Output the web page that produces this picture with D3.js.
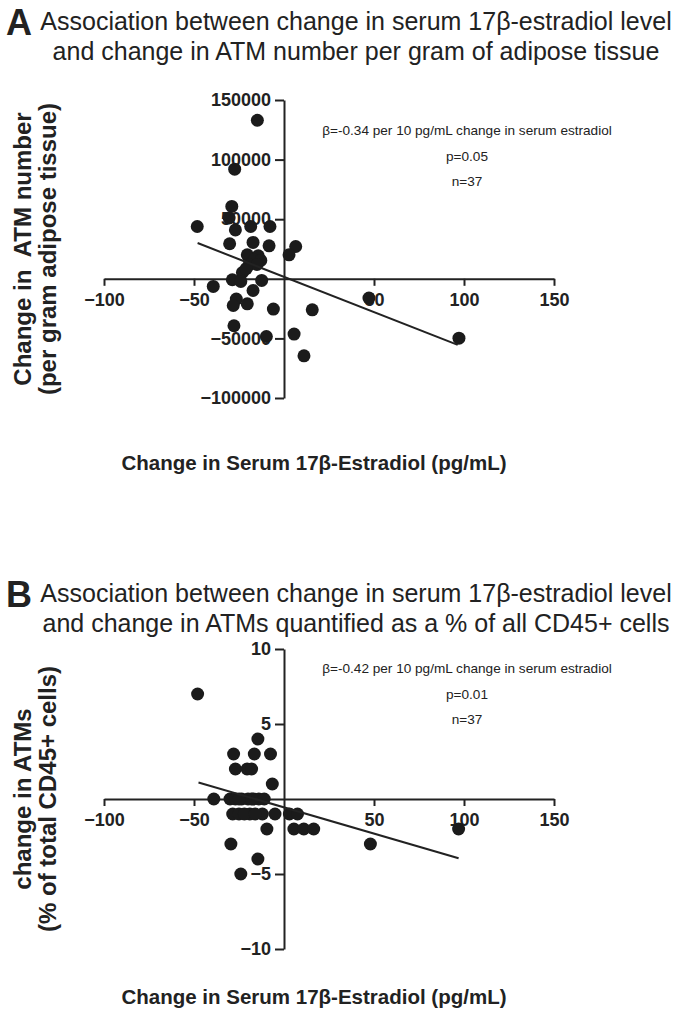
<!DOCTYPE html>
<html>
<head>
<meta charset="utf-8">
<script src="https://cdn.jsdelivr.net/npm/d3@7"></script>
<style>
  html, body { margin: 0; padding: 0; background: #fff; }
  svg text { font-family: "Liberation Sans", Arial, sans-serif; fill: #222; }
</style>
</head>
<body>
<svg id="chart" width="679" height="1018"></svg>
<script>
// ---------- Data ----------
// Panel A: change in serum 17β-estradiol (pg/mL) vs change in ATM number per gram adipose tissue
const xA = [-14.8, -27.4, -29, -48.2, -30.5, -27, -18.5, -7.8, -30.2, -17.2, -8.3, 6.5, 2.8,
            -20.4, -14.3, -16.7, -12.9, -19.4, -23.1, -28.7, -24, -12.4, -39.3, -17.2, -26.5,
            -28.2, -20.4, -5.9, 15.7, -27.8, -9.8, 5.6, 11.1, 47.2, 97.2, -15, -21];
const yA = [133000, 92000, 60700, 43900, 51000, 41000, 43900, 43900, 29400, 30500, 27700, 27100, 20100,
            20100, 19300, 16000, 15400, 11700, 5300, -800, -2200, -1400, -6400, -9800, -17000,
            -22400, -21000, -25400, -26000, -39400, -48400, -46400, -64600, -16200, -49800, 12000, 8500];
const fitAx = [-48, 96.5];
const fitAy = [30000, -55400];

// Panel B: change in serum 17β-estradiol (pg/mL) vs change in ATMs (% of total CD45+ cells)
const xB = [-48, -14.5, -28, -16.5, -7.5, -27, -20.5, -18, -6.5,
            -39, -30, -27, -23.5, -20, -17, -14, -11,
            -28.5, -25, -19, -12, -5, 3, 7.5,
            -9.5, 5.5, 11, 16.5,
            -29.5, -14.5, -24, 48, 97,
            -25, -22, -16, -18];
const yB = [7, 4, 3, 3, 3, 2, 2, 2, 1,
            0, 0, 0, 0, 0, 0, 0, 0,
            -1, -1, -1, -1, -1, -1, -1,
            -2, -2, -2, -2,
            -3, -4, -5, -3, -2,
            0, -1, -1, 0];
const fitBx = [-47.5, 97];
const fitBy = [1.1, -3.95];

const xTicks = [-100, -50, 50, 100, 150];
const yTicksA = [150000, 100000, 50000, -50000, -100000];
const yTicksB = [10, 5, -5, -10];

const titleA = ["Association between change in serum 17β-estradiol level",
                "and change in ATM number per gram of adipose tissue"];
const titleB = ["Association between change in serum 17β-estradiol level",
                "and change in ATMs quantified as a % of all CD45+ cells"];
const statsA = ["β=-0.34 per 10 pg/mL change in serum estradiol", "p=0.05", "n=37"];
const statsB = ["β=-0.42 per 10 pg/mL change in serum estradiol", "p=0.01", "n=37"];
const yTitleA = ["Change in  ATM number", "(per gram adipose tissue)"];
const yTitleB = ["change in ATMs", "(% of total CD45+ cells)"];
const xTitle = "Change in Serum 17β-Estradiol (pg/mL)";

// ---------- Drawing ----------
const svg = d3.select("#chart");
svg.append("rect").attr("width", 679).attr("height", 1018).attr("fill", "#fff");

const ink = "#222";

function panel(cfg) {
  const x = d3.scaleLinear().domain([-100, 150]).range([104, 554]);
  const y = d3.scaleLinear().domain(cfg.yDomain).range(cfg.yRange);
  const g = svg.append("g");

  // letter + title
  g.append("text").attr("x", 6).attr("y", cfg.titleY + 5)
    .attr("font-size", 36).attr("font-weight", "bold").text(cfg.letter);
  cfg.title.forEach((t, i) => {
    g.append("text").attr("x", 356).attr("y", cfg.titleY + i * 30)
      .attr("text-anchor", "middle").attr("font-size", 25).text(t);
  });

  // x axis
  const xAxis = d3.axisBottom(x).tickValues(xTicks).tickSize(7).tickSizeOuter(0)
    .tickPadding(7).tickFormat(d3.format("d"));
  const gx = g.append("g").attr("transform", `translate(0,${y(0)})`).call(xAxis);
  gx.select(".domain").attr("stroke", ink).attr("stroke-width", 2);
  gx.selectAll(".tick line").attr("stroke", ink).attr("stroke-width", 2);
  gx.selectAll(".tick text").attr("font-size", 18).attr("font-weight", "bold")
    .attr("font-family", "Liberation Sans, Arial, sans-serif").attr("fill", ink);

  // y axis
  const yAxis = d3.axisLeft(y).tickValues(cfg.yTicks).tickSize(9).tickSizeOuter(0)
    .tickPadding(4).tickFormat(d3.format("d"));
  const gy = g.append("g").attr("transform", `translate(${x(0)},0)`).call(yAxis);
  gy.select(".domain").attr("stroke", ink).attr("stroke-width", 2);
  gy.selectAll(".tick line").attr("stroke", ink).attr("stroke-width", 2);
  gy.selectAll(".tick text").attr("font-size", 18).attr("font-weight", "bold")
    .attr("font-family", "Liberation Sans, Arial, sans-serif").attr("fill", ink);

  // points
  g.append("g").selectAll("circle").data(cfg.xs.map((d, i) => [d, cfg.ys[i]]))
    .join("circle")
    .attr("cx", d => x(d[0])).attr("cy", d => y(d[1])).attr("r", 6.5)
    .attr("fill", "#1b1b1b");

  // regression line
  g.append("line")
    .attr("x1", x(cfg.fitx[0])).attr("y1", y(cfg.fity[0]))
    .attr("x2", x(cfg.fitx[1])).attr("y2", y(cfg.fity[1]))
    .attr("stroke", ink).attr("stroke-width", 2);

  // stats
  cfg.stats.forEach((t, i) => {
    g.append("text").attr("x", 467).attr("y", cfg.statsY + i * 25.5)
      .attr("text-anchor", "middle").attr("font-size", 13.6).attr("fill", "#333").text(t);
  });

  // y title
  const yc = (cfg.yRange[0] + cfg.yRange[1]) / 2;
  cfg.yTitle.forEach((t, i) => {
    g.append("text")
      .attr("transform", `translate(${[31, 56][i]},${yc}) rotate(-90)`)
      .attr("text-anchor", "middle").attr("font-size", 24).attr("font-weight", "bold")
      .attr("xml:space", "preserve").style("white-space", "pre")
      .text(t);
  });

  // x title
  g.append("text").attr("x", 314).attr("y", cfg.xTitleY)
    .attr("text-anchor", "middle").attr("font-size", 20.5).attr("font-weight", "bold").text(xTitle);
}

panel({
  letter: "A", title: titleA, titleY: 30,
  yDomain: [-100000, 150000], yRange: [398, 100], yTicks: yTicksA,
  xs: xA, ys: yA, fitx: fitAx, fity: fitAy,
  stats: statsA, statsY: 135, yTitle: yTitleA, xTitleY: 470
});

panel({
  letter: "B", title: titleB, titleY: 602,
  yDomain: [-10, 10], yRange: [949, 649], yTicks: yTicksB,
  xs: xB, ys: yB, fitx: fitBx, fity: fitBy,
  stats: statsB, statsY: 673, yTitle: yTitleB, xTitleY: 1004
});
</script>
</body>
</html>
